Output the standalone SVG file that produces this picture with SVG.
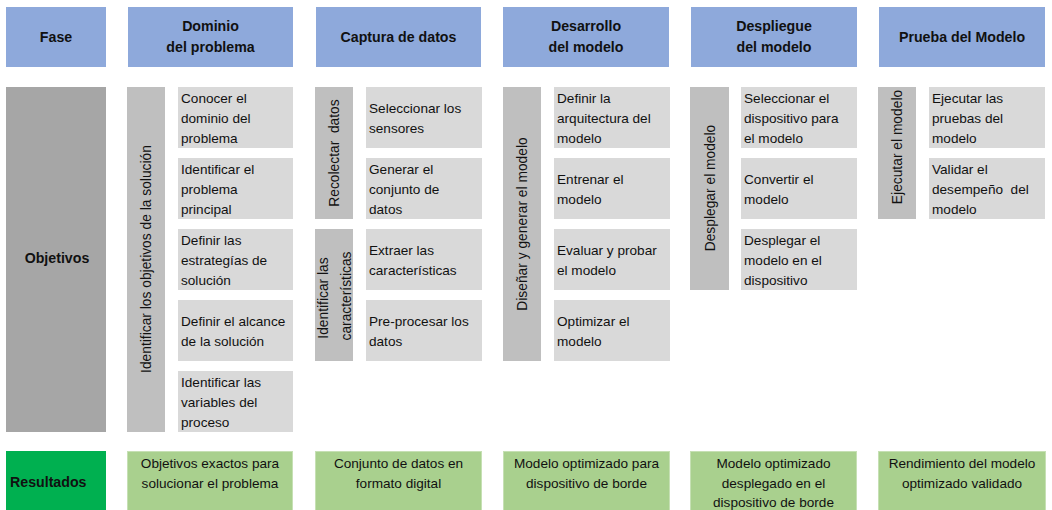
<svg xmlns="http://www.w3.org/2000/svg" width="1052" height="510" viewBox="0 0 1052 510">
<style>
text{font-family:"Liberation Sans",Arial,sans-serif;fill:#111;}
.h{fill:#8EA9DB;}
.g{fill:#A6A6A6;}
.bar{fill:#BFBFBF;}
.it{fill:#D9D9D9;}
.dg{fill:#00B050;}
.lg{fill:#A9D08E;stroke:#C6E0B4;stroke-width:1;}
.ht{font-size:14.2px;font-weight:bold;text-anchor:middle;}
.lb{font-size:14.2px;font-weight:bold;}
.t{font-size:13.6px;}
.c{font-size:13.6px;text-anchor:middle;}
.v{font-size:13.8px;text-anchor:middle;}
</style>
<rect width="1052" height="510" fill="#fff"/>

<g id="header-fase"><rect class="h" x="6" y="7" width="100" height="60"/><text class="ht" x="56" y="42">Fase</text></g>
<g id="header-dominio"><rect class="h" x="128" y="7" width="165" height="60"/><text class="ht" x="210.5" y="31">Dominio</text><text class="ht" x="210.5" y="52">del problema</text></g>
<g id="header-captura"><rect class="h" x="316" y="7" width="165" height="60"/><text class="ht" x="398.5" y="42">Captura de datos</text></g>
<g id="header-desarrollo"><rect class="h" x="503" y="7" width="166" height="60"/><text class="ht" x="586" y="31">Desarrollo</text><text class="ht" x="586" y="52">del modelo</text></g>
<g id="header-despliegue"><rect class="h" x="691" y="7" width="166" height="60"/><text class="ht" x="774" y="31">Despliegue</text><text class="ht" x="774" y="52">del modelo</text></g>
<g id="header-prueba"><rect class="h" x="879" y="7" width="166" height="60"/><text class="ht" x="962" y="42">Prueba del Modelo</text></g>

<g id="objetivos"><rect class="g" x="6" y="87" width="100" height="345"/><text class="lb" x="57" y="263" text-anchor="middle">Objetivos</text></g>

<g id="bar-dominio"><rect class="bar" x="127" y="87" width="38" height="345"/><text class="v" transform="translate(151,259) rotate(-90)">Identificar los objetivos de la solución</text></g>
<g id="bar-recolectar"><rect class="bar" x="315" y="87" width="38" height="132"/><text class="v" transform="translate(339,153) rotate(-90)" xml:space="preserve">Recolectar  datos</text></g>
<g id="bar-caracteristicas"><rect class="bar" x="315" y="229" width="38" height="132"/><text class="v" transform="translate(328,298) rotate(-90)">Identificar las</text><text class="v" transform="translate(351,296) rotate(-90)">características</text></g>
<g id="bar-disenar"><rect class="bar" x="503" y="87" width="38" height="274"/><text class="v" transform="translate(527,224) rotate(-90)">Diseñar y generar el modelo</text></g>
<g id="bar-desplegar"><rect class="bar" x="690" y="87" width="39" height="203"/><text class="v" transform="translate(715,188) rotate(-90)">Desplegar el modelo</text></g>
<g id="bar-ejecutar"><rect class="bar" x="878" y="87" width="38" height="132"/><text class="v" transform="translate(902,147) rotate(-90)">Ejecutar el modelo</text></g>

<g id="d1"><rect class="it" x="178" y="87" width="115" height="61"/><text class="t" x="181" y="103">Conocer el</text><text class="t" x="181" y="123">dominio del</text><text class="t" x="181" y="143">problema</text></g>
<g id="d2"><rect class="it" x="178" y="158" width="115" height="61"/><text class="t" x="181" y="174">Identificar el</text><text class="t" x="181" y="194">problema</text><text class="t" x="181" y="214">principal</text></g>
<g id="d3"><rect class="it" x="178" y="229" width="115" height="61"/><text class="t" x="181" y="245">Definir las</text><text class="t" x="181" y="265">estrategías de</text><text class="t" x="181" y="285">solución</text></g>
<g id="d4"><rect class="it" x="178" y="300" width="115" height="61"/><text class="t" x="181" y="326">Definir el alcance</text><text class="t" x="181" y="346">de la solución</text></g>
<g id="d5"><rect class="it" x="178" y="371" width="115" height="61"/><text class="t" x="181" y="387">Identificar las</text><text class="t" x="181" y="407">variables del</text><text class="t" x="181" y="427">proceso</text></g>

<g id="c1"><rect class="it" x="366" y="87" width="116" height="61"/><text class="t" x="369" y="113">Seleccionar los</text><text class="t" x="369" y="133">sensores</text></g>
<g id="c2"><rect class="it" x="366" y="158" width="116" height="61"/><text class="t" x="369" y="174">Generar el</text><text class="t" x="369" y="194">conjunto de</text><text class="t" x="369" y="214">datos</text></g>
<g id="c3"><rect class="it" x="366" y="229" width="116" height="61"/><text class="t" x="369" y="255">Extraer las</text><text class="t" x="369" y="275">características</text></g>
<g id="c4"><rect class="it" x="366" y="300" width="116" height="61"/><text class="t" x="369" y="326">Pre-procesar los</text><text class="t" x="369" y="346">datos</text></g>

<g id="m1"><rect class="it" x="554" y="87" width="116" height="61"/><text class="t" x="557" y="103">Definir la</text><text class="t" x="557" y="123">arquitectura del</text><text class="t" x="557" y="143">modelo</text></g>
<g id="m2"><rect class="it" x="554" y="158" width="116" height="61"/><text class="t" x="557" y="184">Entrenar el</text><text class="t" x="557" y="204">modelo</text></g>
<g id="m3"><rect class="it" x="554" y="229" width="116" height="61"/><text class="t" x="557" y="255">Evaluar y probar</text><text class="t" x="557" y="275">el modelo</text></g>
<g id="m4"><rect class="it" x="554" y="300" width="116" height="61"/><text class="t" x="557" y="326">Optimizar el</text><text class="t" x="557" y="346">modelo</text></g>

<g id="p1"><rect class="it" x="741" y="87" width="116" height="61"/><text class="t" x="744" y="103">Seleccionar el</text><text class="t" x="744" y="123">dispositivo para</text><text class="t" x="744" y="143">el modelo</text></g>
<g id="p2"><rect class="it" x="741" y="158" width="116" height="61"/><text class="t" x="744" y="184">Convertir el</text><text class="t" x="744" y="204">modelo</text></g>
<g id="p3"><rect class="it" x="741" y="229" width="116" height="61"/><text class="t" x="744" y="245">Desplegar el</text><text class="t" x="744" y="265">modelo en el</text><text class="t" x="744" y="285">dispositivo</text></g>

<g id="e1"><rect class="it" x="929" y="87" width="116" height="61"/><text class="t" x="932" y="103">Ejecutar las</text><text class="t" x="932" y="123">pruebas del</text><text class="t" x="932" y="143">modelo</text></g>
<g id="e2"><rect class="it" x="929" y="158" width="116" height="61"/><text class="t" x="932" y="174">Validar el</text><text class="t" x="932" y="194" xml:space="preserve">desempeño  del</text><text class="t" x="932" y="214">modelo</text></g>

<g id="resultados"><rect class="dg" x="6" y="451" width="100" height="62"/><text class="lb" x="10" y="487">Resultados</text></g>
<g id="r1"><rect class="lg" x="127.5" y="451.5" width="165" height="62"/><text class="c" x="210" y="468">Objetivos exactos para</text><text class="c" x="210" y="488">solucionar el problema</text></g>
<g id="r2"><rect class="lg" x="315.5" y="451.5" width="166" height="62"/><text class="c" x="398.5" y="468">Conjunto de datos en</text><text class="c" x="398.5" y="488">formato digital</text></g>
<g id="r3"><rect class="lg" x="503.5" y="451.5" width="166" height="62"/><text class="c" x="586.5" y="468">Modelo optimizado para</text><text class="c" x="586.5" y="488">dispositivo de borde</text></g>
<g id="r4"><rect class="lg" x="690.5" y="451.5" width="166" height="62"/><text class="c" x="773.5" y="468">Modelo optimizado</text><text class="c" x="773.5" y="488">desplegado en el</text><text class="c" x="773.5" y="507">dispositivo de borde</text></g>
<g id="r5"><rect class="lg" x="878.5" y="451.5" width="167" height="62"/><text class="c" x="962" y="468">Rendimiento del modelo</text><text class="c" x="962" y="488">optimizado validado</text></g>
</svg>
